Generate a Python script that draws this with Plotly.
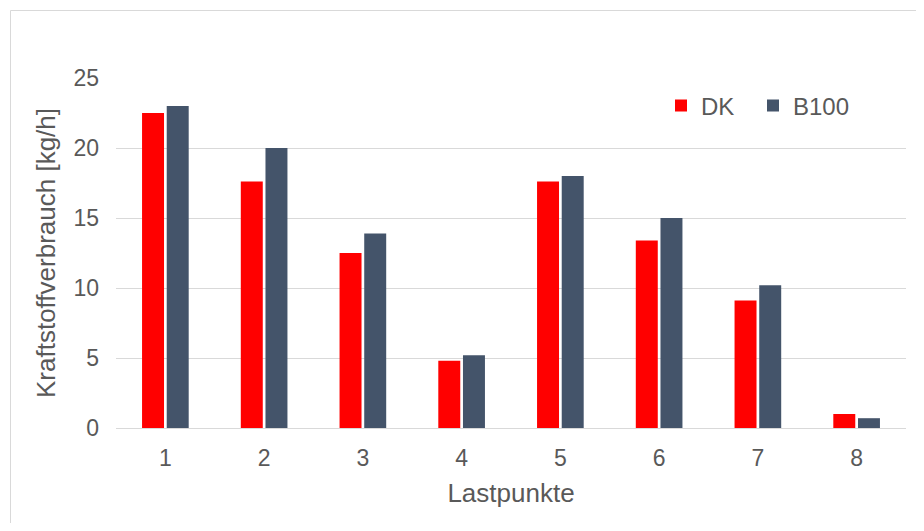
import plotly.graph_objects as go

categories = ["1", "2", "3", "4", "5", "6", "7", "8"]
dk_values = [22.5, 17.6, 12.5, 4.8, 17.6, 13.4, 9.1, 1.0]
b100_values = [23.0, 20.0, 13.9, 5.2, 18.0, 15.0, 10.2, 0.7]
y_ticks = [0, 5, 10, 15, 20, 25]

# figure fits the viewport exactly inside the default 8px page margin
W, H = 908, 515
L, R, T, B = 108, 10, 70, 95
pw, ph = W - L - R, H - T - B

text_color = "#595959"
grid_color = "#D9D9D9"
font_family = "Liberation Sans, Arial, sans-serif"

fig = go.Figure()
fig.add_trace(go.Bar(x=categories, y=dk_values, name="DK", legend="legend",
                     showlegend=True,
                     marker=dict(color="#FF0000", line=dict(width=0))))
fig.add_trace(go.Bar(x=categories, y=b100_values, name="B100", legend="legend2",
                     showlegend=True,
                     marker=dict(color="#44546A", line=dict(width=0))))


def px_x(p):
    return (p - L) / pw


def px_y(p):
    return (H - B - p) / ph


legend_style = dict(
    orientation="h", xanchor="left", yanchor="middle",
    font=dict(size=24, color=text_color), bgcolor="rgba(0,0,0,0)",
    itemwidth=30,
)

fig.update_layout(
    width=W, height=H,
    margin=dict(l=L, r=R, t=T, b=B, pad=0),
    paper_bgcolor="white", plot_bgcolor="white",
    showlegend=True,
    barmode="group", bargap=0.5, bargroupgap=0.11,
    font=dict(family=font_family, color=text_color, size=23),
    xaxis=dict(
        type="category", showgrid=False, showline=True, linecolor=grid_color,
        linewidth=1, ticks="", ticklabelstandoff=9,
        tickfont=dict(size=23, color=text_color),
        title=dict(text="Lastpunkte", font=dict(size=26, color=text_color), standoff=14),
    ),
    yaxis=dict(
        range=[0, 25], tickvals=y_ticks, showgrid=True, gridcolor=grid_color,
        gridwidth=1, zeroline=True, zerolinecolor=grid_color, zerolinewidth=1,
        showline=False, ticks="", ticklabelstandoff=16,
        tickfont=dict(size=23, color=text_color),
        title=dict(text="Kraftstoffverbrauch [kg/h]",
                   font=dict(size=26, color=text_color), standoff=10),
    ),
    legend=dict(x=px_x(653), y=px_y(98), **legend_style),
    legend2=dict(x=px_x(745), y=px_y(98), **legend_style),
    shapes=[dict(type="rect", xref="paper", yref="paper",
                 x0=px_x(2.5), x1=px_x(940), y0=px_y(2.5), y1=px_y(545),
                 line=dict(color=grid_color, width=1), fillcolor="rgba(0,0,0,0)",
                 layer="below")],
)

fig.write_html("out.html")
